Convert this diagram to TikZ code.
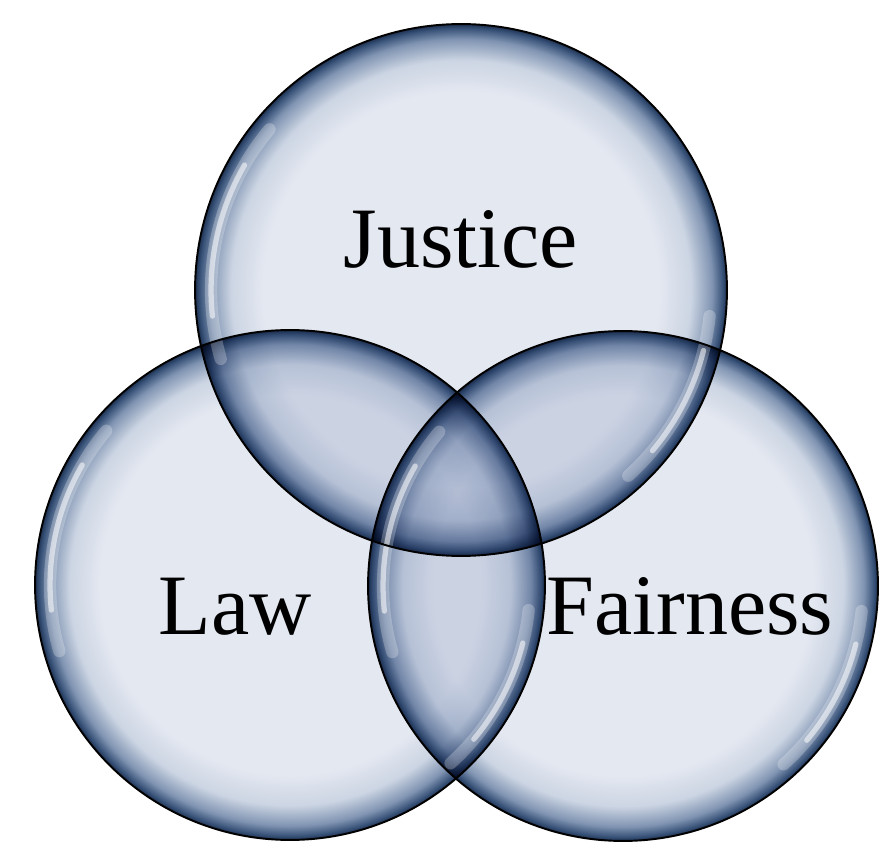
\documentclass[tikz,border=0pt]{standalone}
\usepackage{fontspec}
\setmainfont{Liberation Serif}
\usepackage{xcolor}
\definecolor{bubblefill}{RGB}{228,232,241}
\definecolor{bubblelight}{RGB}{204,213,227}
\definecolor{bubblemid}{RGB}{128,148,178}
\definecolor{bubblerim}{RGB}{56,82,120}
\definecolor{bubbleedge}{RGB}{30,50,82}
\pgfdeclareradialshading{bubble}{\pgfpoint{0bp}{0bp}}{color(0bp)=(bubblefill); color(18.6bp)=(bubblefill); color(21.6bp)=(bubblelight); color(23.6bp)=(bubblemid); color(24.6bp)=(bubblerim); color(25bp)=(bubbleedge); color(50bp)=(bubbleedge)}

\begin{document}
\begin{tikzpicture}[x=0.02cm,y=0.02cm]
        \tikzstyle{bubble}=[circle,inner sep=0pt,outer sep=0pt,shading=bubble]
        \tikzstyle{rim}=[draw=black,line width=1.1pt]
        \tikzstyle{gloss}=[draw=white,line cap=round]
        \tikzstyle{word}=[anchor=base,text=black,font=\fontsize{49}{49}\selectfont]

        \useasboundingbox (0,0) rectangle (879,846);

        % the three circles, darker where they overlap
        \begin{scope}[blend mode=multiply]
        \node[bubble,minimum size=10.64cm] (justice)  at (461,556) {};
        \node[bubble,minimum size=10.2cm]  (law)      at (290,261) {};
        \node[bubble,minimum size=10.2cm]  (fairness) at (623,260) {};
        \end{scope}

        % glossy highlights
        \foreach \c/\r in {justice/5.0,law/4.8,fairness/4.8} {
            \path[gloss,line width=7pt,opacity=0.25] (\c.center) ++(140:\r cm) arc[start angle=140,end angle=196,radius=\r cm];
            \path[gloss,line width=3pt,opacity=0.55] (\c.center) ++(150:\r cm) arc[start angle=150,end angle=186,radius=\r cm];
            \path[gloss,line width=7pt,opacity=0.25] (\c.center) ++(-6:\r cm) arc[start angle=-6,end angle=-48,radius=\r cm];
            \path[gloss,line width=3pt,opacity=0.55] (\c.center) ++(-14:\r cm) arc[start angle=-14,end angle=-40,radius=\r cm];
        }

        % outlines
        \path[rim] (justice.center) circle (5.32cm);
        \path[rim] (law.center) circle (5.1cm);
        \path[rim] (fairness.center) circle (5.1cm);

        \node[word] (justicelbl)  at (461,578) {Justice};
        \node[word] (lawlbl)      at (235,212) {Law};
        \node[word] (fairnesslbl) at (690,212) {Fairness};
\end{tikzpicture}
\end{document}
